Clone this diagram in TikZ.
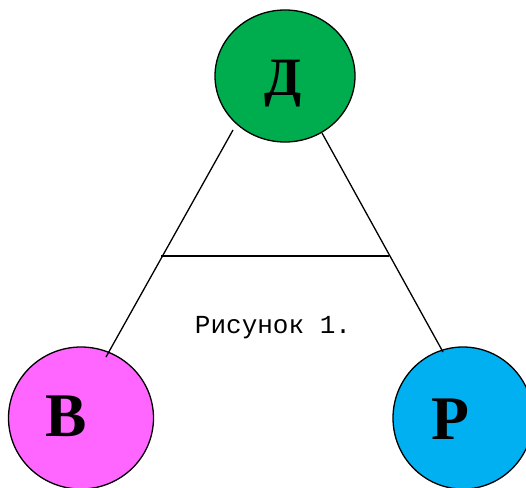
\documentclass[tikz,border=0pt]{standalone}
\usepackage{fontspec}
\setmainfont{Liberation Serif}
\newfontfamily\monofont{Liberation Mono}
\usetikzlibrary{shapes.geometric}
\definecolor{NodeGreen}{HTML}{00AD4E}
\definecolor{NodePink}{HTML}{FF66FF}
\definecolor{NodeBlue}{HTML}{00B0F0}

\tikzset{
  vertex/.style={ellipse,draw=black,line width=1.3pt,inner sep=0pt,
    font=\fontsize{62}{62}\selectfont\bfseries},
  link/.style={line width=1.3pt,black}
}

\begin{document}
\begin{tikzpicture}[x=1pt,y=-1pt]
  \clip (0,0) rectangle (526,487);
  \useasboundingbox (0,0) rectangle (526,487);
  \node[vertex,fill=NodeGreen,minimum width=140pt,minimum height=132pt] (D) at (285,76) {};
  \node[vertex,fill=NodePink,minimum width=145pt,minimum height=142pt] (V) at (81,418) {};
  \node[vertex,fill=NodeBlue,minimum width=140pt,minimum height=142pt] (R) at (463,418) {};
  \node[font=\fontsize{54}{54}\selectfont\bfseries] (Dl) at (283,84) {Д};
  \node[font=\fontsize{62}{62}\selectfont\bfseries] (Vl) at (66,416) {В};
  \node[font=\fontsize{62}{62}\selectfont\bfseries] (Rl) at (450,419) {Р};
  % side lines
  \coordinate (dl) at (233,130);
  \coordinate (vl) at (106,357);
  \coordinate (dr) at (322,133);
  \coordinate (rr) at (443,352);
  \coordinate (hl) at (161,256);
  \coordinate (hr) at (389,256);
  \draw[link] (dl) -- (vl);
  \draw[link] (dr) -- (rr);
  \draw[link] (hl) -- (hr);
  \node[font=\monofont\fontsize{26}{26}\selectfont] (cap) at (273,328) {Рисунок 1.};
\end{tikzpicture}
\end{document}
